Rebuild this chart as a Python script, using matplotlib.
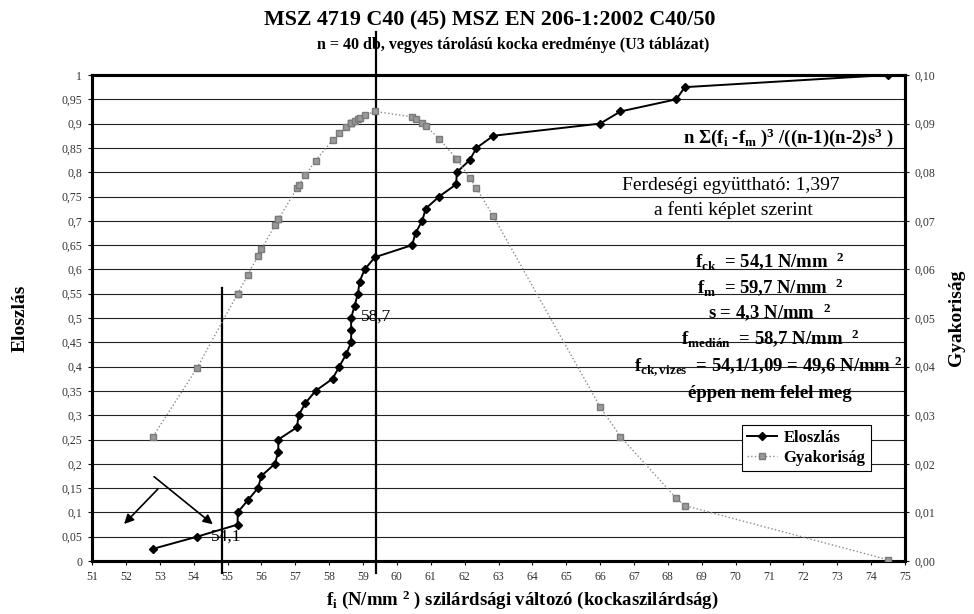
import matplotlib
matplotlib.use("Agg")
import matplotlib.pyplot as plt
from matplotlib.lines import Line2D

plt.rcParams["font.family"] = ["Liberation Serif", "DejaVu Serif"]
plt.rcParams["mathtext.fontset"] = "custom"
plt.rcParams["mathtext.rm"] = "Liberation Serif:bold"
plt.rcParams["mathtext.it"] = "Liberation Serif:bold"
plt.rcParams["mathtext.bf"] = "Liberation Serif:bold"
plt.rcParams["mathtext.default"] = "rm"

# ── data ──────────────────────────────────────────────────────────────────
strength = [52.8, 54.1, 55.3, 55.3, 55.6, 55.9, 56.0, 56.4, 56.5, 56.5,
            57.05, 57.1, 57.3, 57.6, 58.1, 58.3, 58.5, 58.65, 58.65, 58.65,
            58.75, 58.85, 58.9, 59.05, 59.35, 60.45, 60.55, 60.75, 60.85, 61.25,
            61.75, 61.77, 62.15, 62.35, 62.85, 66.0, 66.6, 68.25, 68.5, 74.5]
eloszlas = [0.025, 0.05, 0.075, 0.1, 0.125, 0.15, 0.175, 0.2, 0.225, 0.25,
            0.275, 0.3, 0.325, 0.35, 0.375, 0.4, 0.425, 0.45, 0.475, 0.5,
            0.525, 0.55, 0.575, 0.6, 0.625, 0.65, 0.675, 0.7, 0.725, 0.75,
            0.775, 0.8, 0.825, 0.85, 0.875, 0.9, 0.925, 0.95, 0.975, 1.0]
gyakorisag = [0.0256, 0.0397, 0.0550, 0.0550, 0.0589, 0.0628, 0.0641, 0.0691, 0.0703, 0.0703,
              0.0767, 0.0773, 0.0794, 0.0824, 0.0866, 0.0880, 0.0892, 0.0901, 0.0901, 0.0901,
              0.0905, 0.0910, 0.0912, 0.0917, 0.0925, 0.0914, 0.0910, 0.0901, 0.0895, 0.0869,
              0.0828, 0.0827, 0.0789, 0.0767, 0.0709, 0.0317, 0.0256, 0.0129, 0.0114, 0.00025]

x_ticks = list(range(51, 76))
left_ticks = [i * 0.05 for i in range(21)]
left_labels = ["0", "0,05", "0,1", "0,15", "0,2", "0,25", "0,3", "0,35", "0,4", "0,45", "0,5",
               "0,55", "0,6", "0,65", "0,7", "0,75", "0,8", "0,85", "0,9", "0,95", "1"]
right_ticks = [i * 0.01 for i in range(11)]
right_labels = ["0,00", "0,01", "0,02", "0,03", "0,04", "0,05", "0,06", "0,07", "0,08", "0,09", "0,10"]

fck = 54.85      # hand-drawn marker line near f_ck
fmed = 59.38     # hand-drawn marker line near the median

W, H = 974, 614
fig = plt.figure(figsize=(W / 100, H / 100), dpi=100)
ax = fig.add_axes([92 / W, 1 - 561 / H, 813 / W, 486 / H])
ax2 = ax.twinx()

# ── grid + frame ─────────────────────────────────────────────────────────
for t in left_ticks[1:-1]:
    ax.axhline(t, color="#222222", linewidth=0.8, zorder=1)

ax.set_xlim(51, 75)
ax.set_ylim(0, 1)
ax2.set_ylim(0, 0.10)

ax.set_xticks(x_ticks)
ax.set_xticklabels([str(v) for v in x_ticks])
ax.set_yticks(left_ticks)
ax.set_yticklabels(left_labels)
ax2.set_yticks(right_ticks)
ax2.set_yticklabels(right_labels)

for a in (ax, ax2):
    for s in a.spines.values():
        s.set_linewidth(2.2)
    a.tick_params(direction="out", length=3, width=0.8, labelsize=8.5, colors="#111111",
                  labelcolor="#333333", pad=4)

# ── series ───────────────────────────────────────────────────────────────
ax.plot(strength, eloszlas, color="black", linewidth=1.4, marker="D", markersize=4.5,
        zorder=4)
ax2.plot(strength, gyakorisag, color="#8a8a8a", linewidth=1.0, linestyle=":",
         marker="s", markersize=5, markerfacecolor="#9a9a9a", markeredgecolor="#7a7a7a",
         zorder=3)

# marker lines (run outside the plot area)
ax.plot([fck, fck], [0.562, -0.025], color="black", linewidth=1.6, clip_on=False, zorder=5)
ax.plot([fmed, fmed], [1.088, -0.025], color="black", linewidth=1.6, clip_on=False, zorder=5)

ax.text(54.5, 0.05, "54,1", fontsize=12.5, va="center", ha="left", zorder=6)
ax.text(58.95, 0.503, "58,7", fontsize=12.5, va="center", ha="left", zorder=6)

arrow_kw = dict(arrowstyle="-|>", color="black", linewidth=1.2, mutation_scale=14)
ax.annotate("", xy=(54.63, 0.072), xytext=(52.77, 0.177), arrowprops=arrow_kw)
ax.annotate("", xy=(51.89, 0.072), xytext=(53.0, 0.152), arrowprops=arrow_kw)

# ── text block on the right ──────────────────────────────────────────────
xc = 770 / W
def ftxt(y, s, **kw):
    fig.text(kw.pop("x", xc), 1 - y / H, s, ha="center", va="center", **kw)

ftxt(138, r"n Σ(f$_{ i}$ -f$_{ m}$ )$^{ 3}$ /((n-1)(n-2)s$^{ 3}$ )", fontsize=13.5,
     fontweight="bold", x=788 / W)
ftxt(186, "Ferdeségi együttható: 1,397", fontsize=14, x=731 / W)
ftxt(210, "a fenti képlet szerint", fontsize=14, x=733 / W)
ftxt(261, r"f$_{ck}$  = 54,1 N/mm  $^{2}$", fontsize=13.5, fontweight="bold")
ftxt(287, r"f$_{m}$  = 59,7 N/mm  $^{2}$", fontsize=13.5, fontweight="bold")
ftxt(312, r"s = 4,3 N/mm  $^{2}$", fontsize=13.5, fontweight="bold")
ftxt(338, r"f$_{medián}$  = 58,7 N/mm  $^{2}$", fontsize=13.5, fontweight="bold")
ftxt(366, r"f$_{ck,vizes}$  = 54,1/1,09 = 49,6 N/mm $^{2}$", fontsize=13.5, fontweight="bold",
     x=768 / W)
ftxt(393, "éppen nem felel meg", fontsize=13.5, fontweight="bold")

# ── legend ───────────────────────────────────────────────────────────────
handles = [
    Line2D([], [], color="black", linewidth=1.4, marker="D", markersize=4.5),
    Line2D([], [], color="#8a8a8a", linewidth=1.0, linestyle=":", marker="s", markersize=5,
           markerfacecolor="#9a9a9a", markeredgecolor="#7a7a7a"),
]
leg = ax2.legend(handles, ["Eloszlás", "Gyakoriság"], loc="upper left",
                 bbox_to_anchor=((742 - 92) / 813, (561 - 425) / 486),
                 prop={"weight": "bold", "size": 12}, frameon=True, fancybox=False,
                 edgecolor="black", framealpha=1, borderpad=0.3, handlelength=1.8,
                 handletextpad=0.4, labelspacing=0.25, borderaxespad=0)
leg.get_frame().set_linewidth(0.8)
leg.set_zorder(10)

# ── titles / axis labels ─────────────────────────────────────────────────
fig.text(490 / W, 1 - 20 / H, "MSZ 4719 C40 (45) MSZ EN 206-1:2002 C40/50",
         ha="center", va="center", fontsize=15.8, fontweight="bold")
fig.text(513 / W, 1 - 45 / H, "n = 40 db, vegyes tárolású kocka eredménye (U3 táblázat)",
         ha="center", va="center", fontsize=11.5, fontweight="bold")
fig.text(20 / W, 1 - 318 / H, "Eloszlás", rotation=90, ha="center", va="center",
         fontsize=14, fontweight="bold")
fig.text(956 / W, 1 - 318 / H, "Gyakoriság", rotation=90, ha="center", va="center",
         fontsize=14, fontweight="bold")
fig.text(522 / W, 1 - 600 / H, r"f$_{ i}$ (N/mm $^{2}$ ) szilárdsági változó (kockaszilárdság)",
         ha="center", va="center", fontsize=13.5, fontweight="bold")

fig.savefig("out.png", dpi=100)
